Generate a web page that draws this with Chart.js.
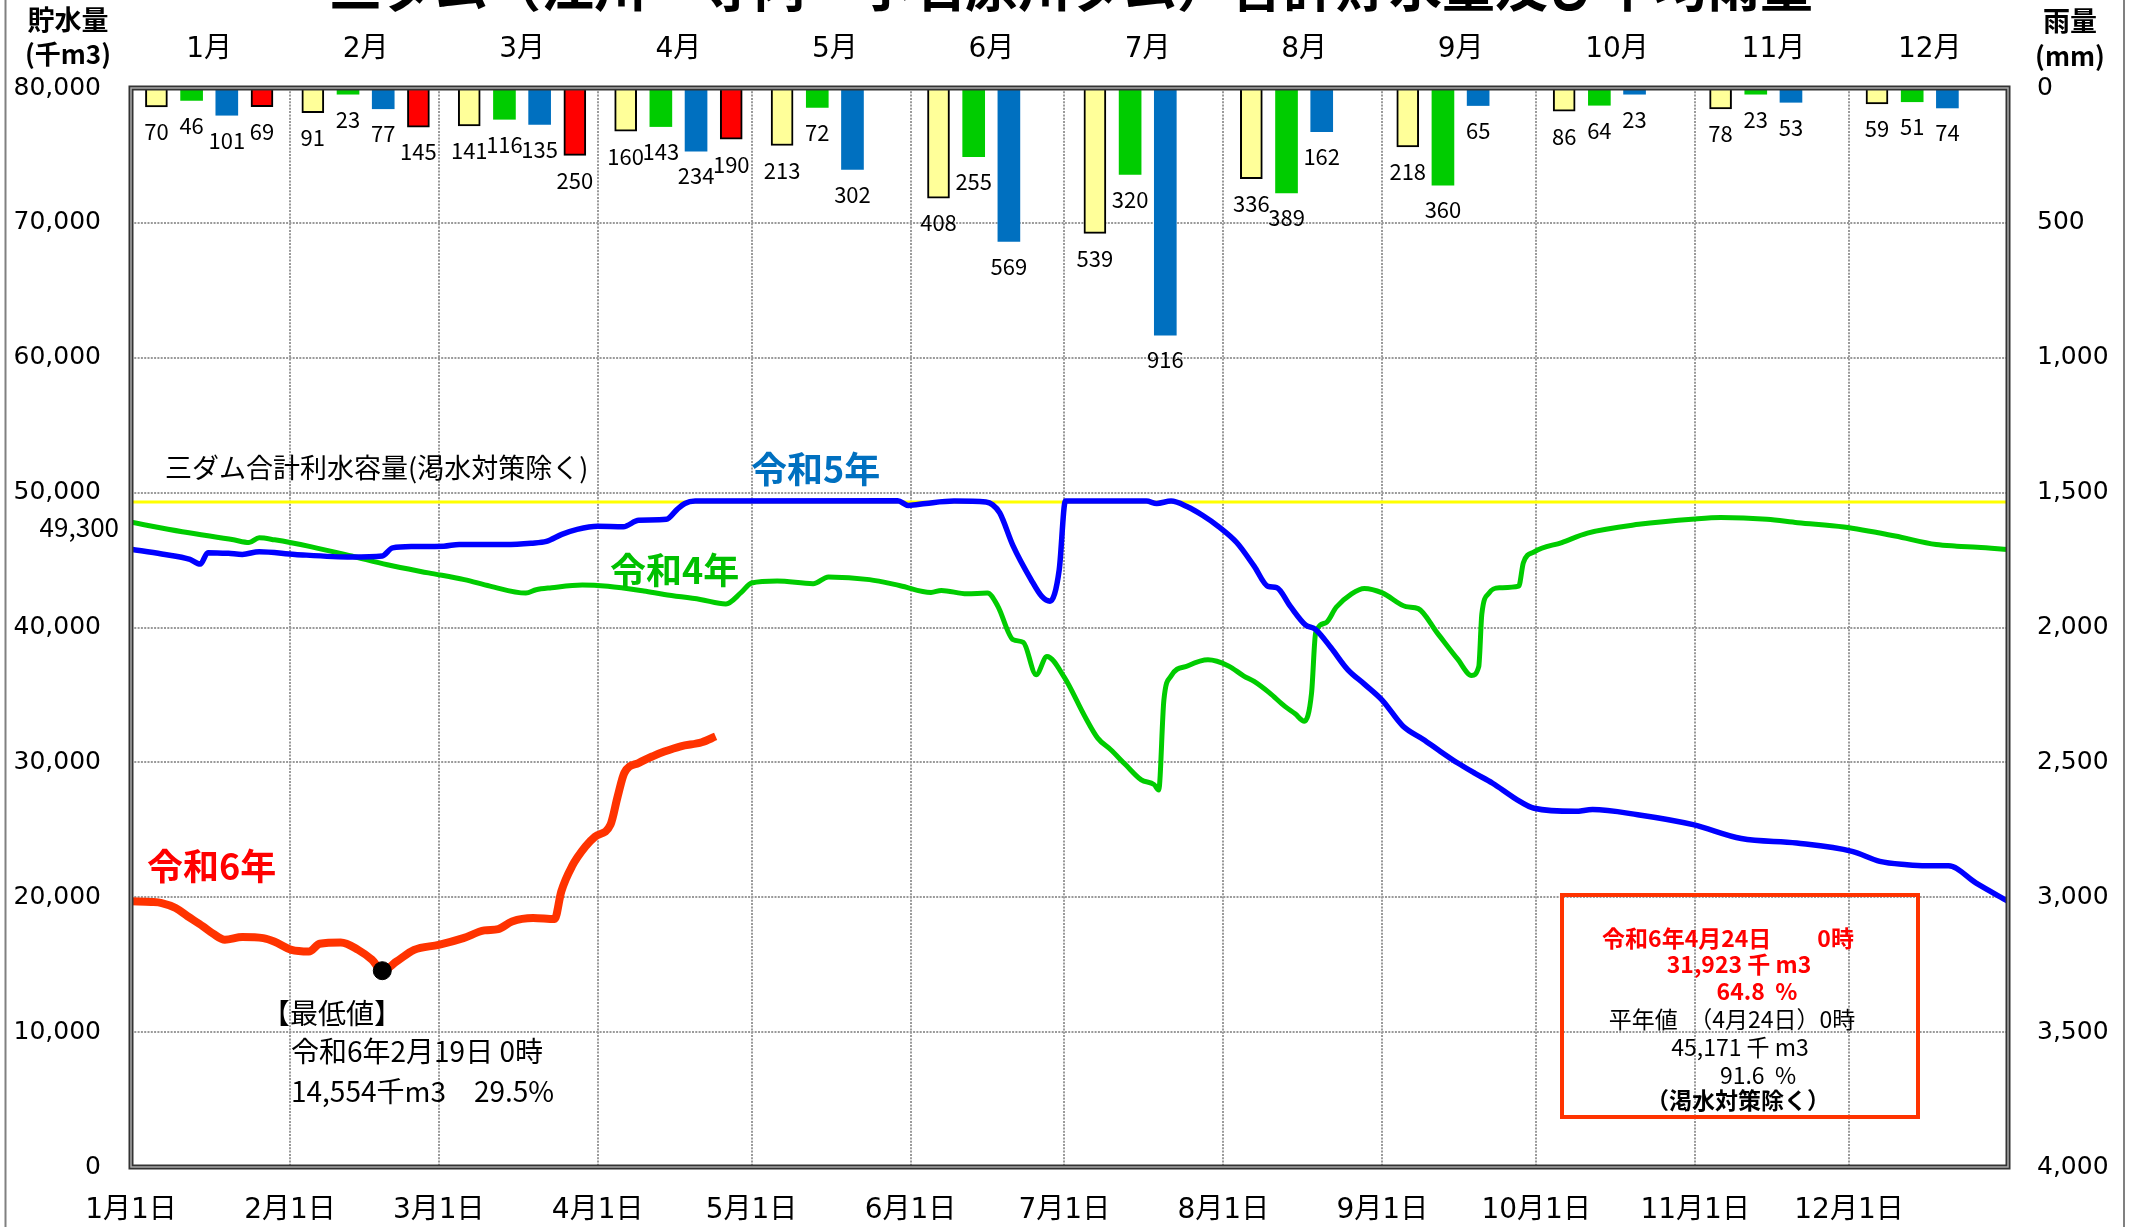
<!DOCTYPE html>
<html><head><meta charset="utf-8">
<script src="https://cdn.jsdelivr.net/npm/chart.js@4.4.1/dist/chart.umd.min.js"></script>
<style>html,body{margin:0;padding:0;background:#fff;overflow:hidden}</style>
</head><body>
<canvas id="c" width="2134" height="1227"></canvas>
<script>
// ---- categories / tick labels ----
const months = ['1月','2月','3月','4月','5月','6月','7月','8月','9月','10月','11月','12月'];
const dateTickDays = [0,31,60,91,121,152,182,213,244,274,305,335];
const dateTickLabels = ['1月1日','2月1日','3月1日','4月1日','5月1日','6月1日','7月1日','8月1日','9月1日','10月1日','11月1日','12月1日'];
const storageTicks = [0,10000,20000,30000,40000,50000,60000,70000,80000];
const rainTicks = [0,500,1000,1500,2000,2500,3000,3500,4000];

// ---- monthly rainfall (mm) ----
const rainNormal = [70,91,141,160,213,408,539,336,218,86,78,59];
const rainR4 = [46,23,116,143,72,255,320,389,360,64,23,51];
const rainR5 = [101,77,135,234,302,569,916,162,65,23,53,74];
const rainR6 = [69,145,250,190,null,null,null,null,null,null,null,null];

// ---- storage (千m3), day of year from Jan 1 ----
const r4Days = [0,10,20,23,25,28,35,43,50,58,65,70,77,79,82,88,93,100,104,111,116,119,121,126,133,136,144,150,156,158,163,167,169,172,174,176.5,178.6,182,186,188.5,191,194,197,199.5,200.4,201.4,202.8,206,210,214,217,219,222,225,227,228.8,230.2,231,233,235,238,240.5,244,248.6,251,254.7,258.7,261.4,262.8,263.4,264.8,266.8,270.6,271.5,273.6,279,284,294,305,310,319,325,334,344,352,356,360,366];
const r4Values = [47800,47100,46500,46300,46650,46500,46000,45300,44650,44050,43550,43070,42550,42800,42950,43150,43050,42700,42450,42080,41750,42600,43300,43450,43250,43750,43550,43100,42600,42750,42500,42550,41600,39100,38900,36500,37850,36300,33400,31800,30950,29800,28700,28350,27950,34600,36400,37150,37600,37150,36400,36000,35150,34150,33600,33050,35150,39600,40350,41500,42500,42900,42570,41550,41400,39600,37650,36450,37100,41000,42550,42950,43070,44800,45600,46300,47000,47650,48050,48150,48020,47770,47450,46780,46150,46030,45950,45780];

const r5Days = [0,6,11.5,13.5,15,19,21.7,25,32,43,49,51,55,61,64,73,78,81,84,87,91,96,99,104.4,106.5,108,110,149.5,151.6,155,160.5,166.7,168,169.4,172,175.5,177.6,179.2,181,182.2,198,200,202.8,206,209,212,215.6,219,221.7,223.4,226,229,231,234,237.2,240.5,244,248,252,255,258.7,262,265.5,270,273.6,281.6,285,293.8,304.6,314,324.8,335.6,341,346.3,350,354.4,359.8,366];
const r5Values = [45800,45450,45050,44700,45550,45500,45420,45620,45420,45220,45300,45900,46000,46030,46160,46160,46250,46380,46900,47270,47500,47470,47950,48020,48760,49200,49370,49400,49050,49200,49370,49300,49100,48500,46050,43550,42300,41950,44300,49370,49370,49200,49370,48950,48300,47500,46300,44550,43050,42950,41600,40200,39850,38500,36900,35800,34600,32700,31700,30900,29950,29200,28450,27300,26600,26370,26500,26120,25380,24350,24020,23400,22660,22410,22330,22330,21050,19700];

const r6Days = [0,4,6,8.7,11,14,16,18.3,21.7,25.8,27.9,31.3,34.7,36.8,40.9,44.3,47,49,51.8,55.2,60,64.8,68.9,71.6,74.3,78.4,82.6,83.9,86,88.7,90.5,93.5,94.9,96.2,99,101.7,104,107.2,111.3,114];
const r6Values = [19700,19650,19570,19200,18600,17850,17300,16850,17050,16970,16720,16100,15980,16550,16650,16100,15360,14554,15240,16100,16470,16970,17540,17640,18200,18460,18380,20430,22300,23800,24500,25380,27480,29220,29960,30450,30800,31190,31490,31923];

const capacityValue = 49300;
const capacityDays = [0,366];
const minDay = [49];
const minValue = [14554];

// ---- layout / style helpers ----
const FONT = '"Noto Sans CJK JP","Noto Sans",sans-serif';
const AXFONT = '"DejaVu Sans","Noto Sans CJK JP",sans-serif';
const slotOffsets = [-0.3375, -0.1125, 0.1125, 0.3375]; // bar slot within a month (month units)
const pts = (xs, ys) => xs.map((x, i) => ({x: x, y: ys[i]}));
const monthPts = (vals, slot) => vals.map((v, m) => ({x: m + slotOffsets[slot], y: v}));
const fmt = v => Number(v).toLocaleString('en-US');

Chart.defaults.font.family = FONT;
Chart.defaults.color = '#000';

const framePlugin = {
  id: 'frame',
  beforeDraw(chart) {
    const c = chart.ctx;
    c.save();
    c.fillStyle = '#fff';
    c.fillRect(0, 0, chart.width, chart.height);
    c.strokeStyle = '#808080';
    c.lineWidth = 2;
    c.beginPath();
    c.moveTo(5.5, -5); c.lineTo(5.5, chart.height + 5);
    c.moveTo(2124, -5); c.lineTo(2124, chart.height + 5);
    c.stroke();
    c.restore();
  },
  afterDatasetsDraw(chart) {
    const a = chart.chartArea, c = chart.ctx;
    c.save();
    c.strokeStyle = '#333';
    c.lineWidth = 5;
    c.strokeRect(a.left, a.top, a.right - a.left, a.bottom - a.top);
    c.strokeStyle = '#aaa';
    c.lineWidth = 1.5;
    c.strokeRect(a.left, a.top, a.right - a.left, a.bottom - a.top);
    // bar value labels
    c.font = '22px ' + FONT;
    c.fillStyle = '#000';
    c.textAlign = 'center';
    c.textBaseline = 'middle';
    chart.data.datasets.forEach((ds, i) => {
      if (!ds.isRain) return;
      const meta = chart.getDatasetMeta(i);
      meta.data.forEach((el, j) => {
        const v = ds.data[j].y;
        if (v == null) return;
        c.fillText(String(v), el.x, el.y + 25);
      });
    });
    c.restore();
  }
};

const textPlugin = {
  id: 'texts',
  afterDraw(chart) {
    const c = chart.ctx;
    const t = (s, x, y, font, color, align) => {
      c.font = font; c.fillStyle = color || '#000'; c.textAlign = align || 'left';
      c.textBaseline = 'middle'; c.fillText(s, x, y);
    };
    c.save();
    c.font = 'bold 53px ' + FONT; c.fillStyle = '#000'; c.textAlign = 'center'; c.textBaseline = 'alphabetic';
    c.fillText('三ダム（江川・寺内・小石原川ダム）合計貯水量及び平均雨量', 1071, 7, 1500);
    t('貯水量', 68, 20, 'bold 27px ' + FONT, '#000', 'center');
    t('(千m3)', 68, 54, 'bold 26px ' + FONT, '#000', 'center');
    t('雨量', 2070, 21, 'bold 27px ' + FONT, '#000', 'center');
    t('(mm)', 2070, 56, 'bold 26px ' + FONT, '#000', 'center');
    t('三ダム合計利水容量(渇水対策除く)', 165, 468, '27px ' + FONT, '#000', 'left');
    t('49,300', 119, 527, '26px ' + FONT, '#000', 'right');
    t('令和5年', 751, 469, 'bold 36px ' + FONT, '#0070C0', 'left');
    t('令和4年', 610, 570, 'bold 36px ' + FONT, '#00C000', 'left');
    t('令和6年', 147, 866, 'bold 36px ' + FONT, '#FF0000', 'left');
    t('【最低値】', 262, 1013, '28px ' + FONT, '#000', 'left');
    t('令和6年2月19日 0時', 291, 1051, '28px ' + FONT, '#000', 'left');
    t('14,554千m3　29.5%', 291, 1091, '28px ' + FONT, '#000', 'left');
    c.strokeStyle = '#FF3300'; c.lineWidth = 4;
    c.strokeRect(1562, 895, 356, 222);
    t('令和6年4月24日　　0時', 1728, 938, 'bold 23px ' + FONT, '#FF0000', 'center');
    t('31,923 千 m3', 1739, 964, 'bold 23px ' + FONT, '#FF0000', 'center');
    t('64.8  %', 1757, 991, 'bold 23px ' + FONT, '#FF0000', 'center');
    t('平年値　（4月24日）0時', 1732, 1019, '23px ' + FONT, '#000', 'center');
    t('45,171 千 m3', 1740, 1047, '23px ' + FONT, '#000', 'center');
    t('91.6  %', 1758, 1075, '23px ' + FONT, '#000', 'center');
    t('（渇水対策除く）', 1738, 1100, 'bold 23px ' + FONT, '#000', 'center');
    c.restore();
  }
};

const rainBar = (label, vals, slot, bg, border) => ({
  type: 'bar', label: label, data: monthPts(vals, slot), isRain: true, xAxisID: 'x2', yAxisID: 'y2',
  backgroundColor: bg, borderColor: border || bg, borderWidth: border ? 2 : 0,
  grouped: false, barThickness: 22, order: 10
});
const line = (label, data, color, width, order) => ({
  type: 'line', label: label, data: data, xAxisID: 'x', yAxisID: 'y',
  borderColor: color, backgroundColor: color, borderWidth: width, pointRadius: 0,
  cubicInterpolationMode: 'monotone', fill: false, order: order
});

new Chart(document.getElementById('c'), {
  type: 'line',
  data: {
    datasets: [
      rainBar('平年', rainNormal, 0, '#FFFF99', '#000'),
      rainBar('令和4年雨量', rainR4, 1, '#00CC00'),
      rainBar('令和5年雨量', rainR5, 2, '#0070C0'),
      rainBar('令和6年雨量', rainR6, 3, '#FF0000', '#000'),
      line('利水容量', pts(capacityDays, capacityDays.map(() => capacityValue)), '#FFFF00', 3, 6),
      line('令和4年', pts(r4Days, r4Values), '#00CC00', 5, 5),
      line('令和5年', pts(r5Days, r5Values), '#0000FF', 5.5, 4),
      line('令和6年', pts(r6Days, r6Values), '#FF3300', 8, 3),
      { type: 'line', label: '最低値', data: pts(minDay, minValue), xAxisID: 'x', yAxisID: 'y',
        showLine: false, pointRadius: 9, pointBackgroundColor: '#000', pointBorderColor: '#000', order: 1 }
    ]
  },
  options: {
    responsive: false,
    animation: false,
    events: [],
    layout: { padding: 0, autoPadding: false },
    plugins: { legend: { display: false }, tooltip: { enabled: false } },
    scales: {
      x: {
        type: 'linear', position: 'bottom', min: 0, max: 366, offset: false,
        afterBuildTicks: s => { s.ticks = dateTickDays.map(v => ({ value: v })); },
        ticks: { callback: (v, i) => dateTickLabels[i], font: { size: 28, family: AXFONT }, padding: 27, maxRotation: 0, autoSkip: false },
        grid: { color: '#9a9a9a', lineWidth: 2, drawTicks: false, offset: false },
        border: { display: false, dash: [2, 1.3] },
        afterFit: s => { s.height = 60; }
      },
      x2: {
        type: 'linear', position: 'top', min: -0.5, max: 11.5, offset: false,
        afterBuildTicks: s => { s.ticks = months.map((m, i) => ({ value: i })); },
        ticks: { callback: (v, i) => months[i], font: { size: 28, family: AXFONT }, padding: 21, maxRotation: 0, autoSkip: false },
        grid: { display: false, drawTicks: false },
        border: { display: false },
        afterFit: s => { s.height = 88; }
      },
      y: {
        type: 'linear', position: 'left', min: 0, max: 80000,
        afterBuildTicks: s => { s.ticks = storageTicks.map(v => ({ value: v })); },
        ticks: { callback: v => fmt(v), font: { size: 25, family: AXFONT }, padding: 30 },
        grid: { color: '#9a9a9a', lineWidth: 2, drawTicks: false },
        border: { display: false, dash: [2, 1.3] },
        afterFit: s => { s.width = 131; }
      },
      y2: {
        type: 'linear', position: 'right', min: 0, max: 4000, reverse: true,
        afterBuildTicks: s => { s.ticks = rainTicks.map(v => ({ value: v })); },
        ticks: { callback: v => fmt(v), font: { size: 25, family: AXFONT }, padding: 29 },
        grid: { display: false, drawTicks: false },
        border: { display: false },
        afterFit: s => { s.width = 126; }
      }
    }
  },
  plugins: [framePlugin, textPlugin]
});
</script>
</body></html>
